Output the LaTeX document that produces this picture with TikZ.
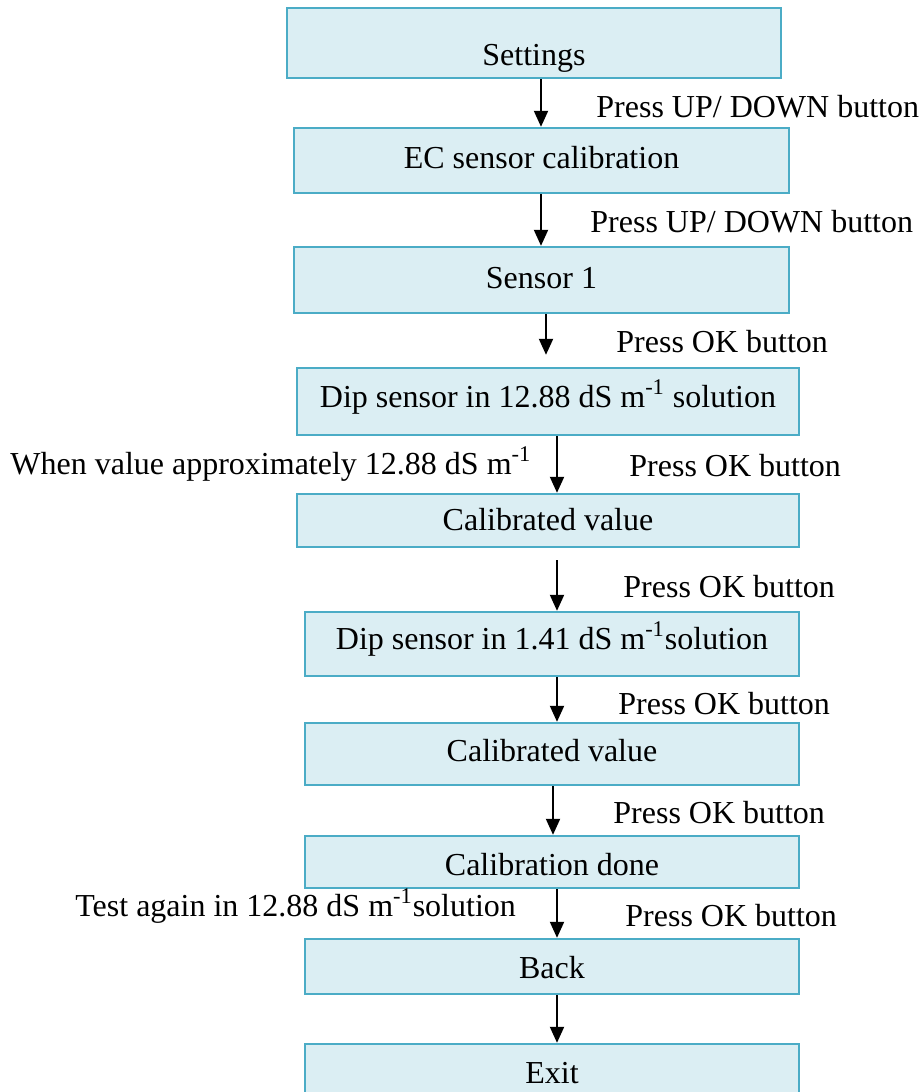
\documentclass[tikz,border=0pt]{standalone}
\usepackage{fontspec}
\setmainfont{Liberation Serif}
\usetikzlibrary{arrows.meta}
\definecolor{boxfill}{RGB}{219,238,243}
\definecolor{boxline}{RGB}{75,172,198}
\begin{document}
\begin{tikzpicture}[x=0.5pt,y=-0.5pt,
  every node/.style={font=\fontsize{16}{19}\selectfont},
  box/.style={draw=boxline,fill=boxfill,line width=1.2pt,inner sep=0pt,
    text depth=3.5pt,minimum width=247pt},
  arr/.style={line width=1pt,-{Triangle[width=7pt,length=8pt]}},
  lbl/.style={anchor=base west,inner sep=0pt}]
\useasboundingbox (0,0) rectangle (921,1092);

% flow boxes
\node[box,minimum height=35pt,text height=25.5pt] (settings) at (534,43) {Settings};
\node[box,minimum width=247.5pt,minimum height=32.5pt,text height=11pt] (ec) at (541.5,160.5) {EC sensor calibration};
\node[box,minimum width=247.5pt,minimum height=33pt,text height=11.5pt] (sensor) at (541.5,280) {Sensor 1};
\node[box,minimum width=251pt,minimum height=33.5pt,text height=9pt] (dipa) at (548,401.5) {Dip sensor in 12.88 dS m\textsuperscript{-1} solution};
\node[box,minimum width=251pt,minimum height=26.5pt,text height=13pt] (cala) at (548,520.5) {Calibrated value};
\node[box,minimum height=32pt,text height=8.5pt] (dipb) at (552,644) {Dip sensor in 1.41 dS m\textsuperscript{-1}solution};
\node[box,minimum height=31pt,text height=10.5pt] (calb) at (552,754) {Calibrated value};
\node[box,minimum height=26pt,text height=16.5pt] (done) at (552,862) {Calibration done};
\node[box,minimum height=27.5pt,text height=15pt] (back) at (552,966.5) {Back};
\node[box,minimum height=33pt,text height=9.5pt] (exit) at (552,1077) {Exit};

% x positions of the connectors
\coordinate (xa) at (541,0);
\coordinate (xb) at (546,0);
\coordinate (xc) at (557,0);
\coordinate (xd) at (553,0);

% connectors
\draw[arr] (settings.south -| xa) -- (ec.north -| xa);
\draw[arr] (ec.south -| xa) -- (sensor.north -| xa);
\draw[arr,shorten >=6pt] (sensor.south -| xb) -- (dipa.north -| xb);
\draw[arr] (dipa.south -| xc) -- (cala.north -| xc);
\draw[arr,shorten <=6pt] (cala.south -| xc) -- (dipb.north -| xc);
\draw[arr] (dipb.south -| xc) -- (calb.north -| xc);
\draw[arr] (calb.south -| xd) -- (done.north -| xd);
\draw[arr] (done.south -| xc) -- (back.north -| xc);
\draw[arr] (back.south -| xc) -- (exit.north -| xc);

% step labels
\node[lbl] (l1) at (596,117) {Press UP/ DOWN button};
\node[lbl] (l2) at (590,232) {Press UP/ DOWN button};
\node[lbl] (l3) at (616,352) {Press OK button};
\node[lbl] (l4) at (10,474) {When value approximately 12.88 dS m\textsuperscript{-1}};
\node[lbl] (l5) at (629,476) {Press OK button};
\node[lbl] (l6) at (623,597) {Press OK button};
\node[lbl] (l7) at (618,714) {Press OK button};
\node[lbl] (l8) at (613,823) {Press OK button};
\node[lbl] (l9) at (75,916) {Test again in 12.88 dS m\textsuperscript{-1}solution};
\node[lbl] (l10) at (625,926) {Press OK button};
\end{tikzpicture}
\end{document}
